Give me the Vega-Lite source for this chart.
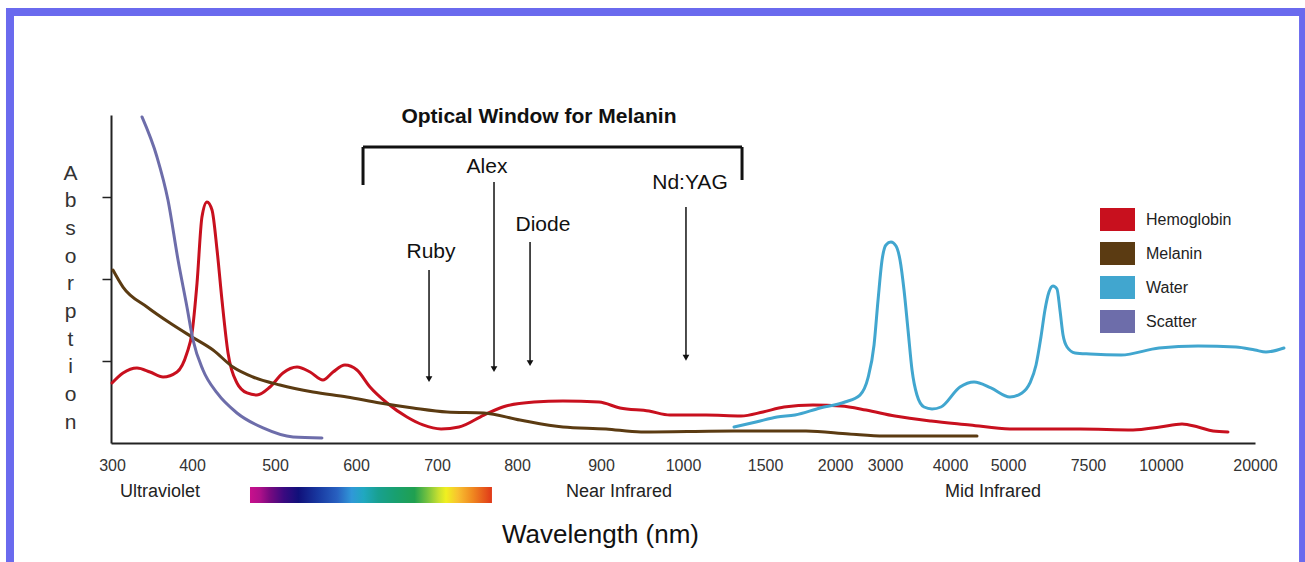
{
  "$schema": "https://vega.github.io/schema/vega-lite/v6.json",
  "width": 1144,
  "height": 328,
  "autosize": {"type": "none"},
  "padding": {"left": 111, "top": 115, "right": 50, "bottom": 119},
  "background": "#ffffff",
  "config": {
    "view": {"stroke": null},
    "font": "Liberation Sans",
    "axis": {"grid": false}
  },
  "datasets": {
    "frame": [{"pos": -8.83, "pos2": 104.2, "y": 5.256, "y2": -2.159}],
    "ticks": [{"pos": 0}, {"pos": 7.08}, {"pos": 14.34}, {"pos": 21.42}, {"pos": 28.5}, {"pos": 35.84}, {"pos": 42.83}, {"pos": 50.0}, {"pos": 57.17}, {"pos": 61.63}, {"pos": 64.25}, {"pos": 66.17}, {"pos": 68.71}, {"pos": 71.24}, {"pos": 75.35}, {"pos": 78.5}, {"pos": 85.66}, {"pos": 92.83}, {"pos": 100.0}],
    "spectrum": [{"pos": 12.15, "pos2": 33.3, "y": -0.537, "y2": -0.732}],
    "bracket": [
      {"pos": 22.03, "pos2": 55.16, "y": 3.61, "y2": 3.61},
      {"pos": 22.03, "pos2": 22.03, "y": 3.61, "y2": 3.146},
      {"pos": 55.16, "pos2": 55.16, "y": 3.61, "y2": 3.207}
    ],
    "arrows": [
      {"laser": "Ruby", "pos": 27.8, "top": 2.11, "y": 0.78},
      {"laser": "Alex", "pos": 33.48, "top": 3.183, "y": 0.9},
      {"laser": "Diode", "pos": 36.63, "top": 2.451, "y": 0.975},
      {"laser": "Nd:YAG", "pos": 50.26, "top": 2.878, "y": 1.04}
    ],
    "labels": [
      {"text": "Optical Window for Melanin", "pos": 37.41, "y": 3.976, "group": "title"},
      {"text": "Alex", "pos": 32.87, "y": 3.36, "group": "laser"},
      {"text": "Nd:YAG", "pos": 50.61, "y": 3.171, "group": "laser"},
      {"text": "Diode", "pos": 37.76, "y": 2.659, "group": "laser"},
      {"text": "Ruby", "pos": 27.97, "y": 2.329, "group": "laser"},
      {"text": "Ultraviolet", "pos": 4.28, "y": -0.598, "group": "region"},
      {"text": "Near Infrared", "pos": 44.41, "y": -0.598, "group": "region"},
      {"text": "Mid Infrared", "pos": 77.1, "y": -0.598, "group": "region"}
    ],
    "curves": [
      {"series": "Hemoglobin", "pos": 0.09, "y": 0.732},
      {"series": "Hemoglobin", "pos": 1.05, "y": 0.854},
      {"series": "Hemoglobin", "pos": 2.27, "y": 0.915},
      {"series": "Hemoglobin", "pos": 3.41, "y": 0.866},
      {"series": "Hemoglobin", "pos": 4.55, "y": 0.805},
      {"series": "Hemoglobin", "pos": 5.77, "y": 0.866},
      {"series": "Hemoglobin", "pos": 6.64, "y": 1.098},
      {"series": "Hemoglobin", "pos": 7.08, "y": 1.341},
      {"series": "Hemoglobin", "pos": 7.52, "y": 1.951},
      {"series": "Hemoglobin", "pos": 7.95, "y": 2.756},
      {"series": "Hemoglobin", "pos": 8.39, "y": 2.939},
      {"series": "Hemoglobin", "pos": 8.83, "y": 2.841},
      {"series": "Hemoglobin", "pos": 9.27, "y": 2.354},
      {"series": "Hemoglobin", "pos": 9.7, "y": 1.744},
      {"series": "Hemoglobin", "pos": 10.23, "y": 1.098},
      {"series": "Hemoglobin", "pos": 11.01, "y": 0.732},
      {"series": "Hemoglobin", "pos": 11.89, "y": 0.61},
      {"series": "Hemoglobin", "pos": 12.76, "y": 0.585},
      {"series": "Hemoglobin", "pos": 13.9, "y": 0.683},
      {"series": "Hemoglobin", "pos": 15.03, "y": 0.854},
      {"series": "Hemoglobin", "pos": 16.26, "y": 0.927},
      {"series": "Hemoglobin", "pos": 17.4, "y": 0.866},
      {"series": "Hemoglobin", "pos": 18.53, "y": 0.768},
      {"series": "Hemoglobin", "pos": 19.41, "y": 0.866},
      {"series": "Hemoglobin", "pos": 20.45, "y": 0.951},
      {"series": "Hemoglobin", "pos": 21.5, "y": 0.89},
      {"series": "Hemoglobin", "pos": 22.64, "y": 0.683},
      {"series": "Hemoglobin", "pos": 24.13, "y": 0.488},
      {"series": "Hemoglobin", "pos": 25.87, "y": 0.317},
      {"series": "Hemoglobin", "pos": 27.27, "y": 0.22},
      {"series": "Hemoglobin", "pos": 28.85, "y": 0.171},
      {"series": "Hemoglobin", "pos": 30.42, "y": 0.195},
      {"series": "Hemoglobin", "pos": 32.6, "y": 0.341},
      {"series": "Hemoglobin", "pos": 34.53, "y": 0.451},
      {"series": "Hemoglobin", "pos": 36.98, "y": 0.5},
      {"series": "Hemoglobin", "pos": 39.51, "y": 0.512},
      {"series": "Hemoglobin", "pos": 42.66, "y": 0.5},
      {"series": "Hemoglobin", "pos": 44.49, "y": 0.427},
      {"series": "Hemoglobin", "pos": 47.03, "y": 0.39},
      {"series": "Hemoglobin", "pos": 48.86, "y": 0.341},
      {"series": "Hemoglobin", "pos": 52.01, "y": 0.341},
      {"series": "Hemoglobin", "pos": 55.07, "y": 0.329},
      {"series": "Hemoglobin", "pos": 56.99, "y": 0.378},
      {"series": "Hemoglobin", "pos": 58.83, "y": 0.439},
      {"series": "Hemoglobin", "pos": 61.36, "y": 0.463},
      {"series": "Hemoglobin", "pos": 63.81, "y": 0.451},
      {"series": "Hemoglobin", "pos": 66.0, "y": 0.402},
      {"series": "Hemoglobin", "pos": 68.53, "y": 0.329},
      {"series": "Hemoglobin", "pos": 71.68, "y": 0.268},
      {"series": "Hemoglobin", "pos": 75.09, "y": 0.22},
      {"series": "Hemoglobin", "pos": 78.58, "y": 0.171},
      {"series": "Hemoglobin", "pos": 84.7, "y": 0.171},
      {"series": "Hemoglobin", "pos": 89.34, "y": 0.159},
      {"series": "Hemoglobin", "pos": 91.7, "y": 0.195},
      {"series": "Hemoglobin", "pos": 93.62, "y": 0.232},
      {"series": "Hemoglobin", "pos": 95.02, "y": 0.195},
      {"series": "Hemoglobin", "pos": 96.33, "y": 0.146},
      {"series": "Hemoglobin", "pos": 97.64, "y": 0.134},
      {"series": "Melanin", "pos": 0.17, "y": 2.11},
      {"series": "Melanin", "pos": 1.05, "y": 1.902},
      {"series": "Melanin", "pos": 3.15, "y": 1.659},
      {"series": "Melanin", "pos": 5.16, "y": 1.463},
      {"series": "Melanin", "pos": 7.08, "y": 1.293},
      {"series": "Melanin", "pos": 8.92, "y": 1.134},
      {"series": "Melanin", "pos": 10.66, "y": 0.927},
      {"series": "Melanin", "pos": 12.41, "y": 0.805},
      {"series": "Melanin", "pos": 14.77, "y": 0.707},
      {"series": "Melanin", "pos": 17.66, "y": 0.622},
      {"series": "Melanin", "pos": 20.63, "y": 0.561},
      {"series": "Melanin", "pos": 23.51, "y": 0.488},
      {"series": "Melanin", "pos": 26.4, "y": 0.427},
      {"series": "Melanin", "pos": 29.37, "y": 0.378},
      {"series": "Melanin", "pos": 32.6, "y": 0.366},
      {"series": "Melanin", "pos": 35.75, "y": 0.28},
      {"series": "Melanin", "pos": 39.51, "y": 0.195},
      {"series": "Melanin", "pos": 43.27, "y": 0.171},
      {"series": "Melanin", "pos": 46.33, "y": 0.134},
      {"series": "Melanin", "pos": 54.46, "y": 0.146},
      {"series": "Melanin", "pos": 60.75, "y": 0.146},
      {"series": "Melanin", "pos": 64.51, "y": 0.11},
      {"series": "Melanin", "pos": 67.57, "y": 0.085},
      {"series": "Melanin", "pos": 75.7, "y": 0.085},
      {"series": "Water", "pos": 54.46, "y": 0.195},
      {"series": "Water", "pos": 56.38, "y": 0.256},
      {"series": "Water", "pos": 58.22, "y": 0.317},
      {"series": "Water", "pos": 59.79, "y": 0.341},
      {"series": "Water", "pos": 61.98, "y": 0.427},
      {"series": "Water", "pos": 64.16, "y": 0.5},
      {"series": "Water", "pos": 65.47, "y": 0.585},
      {"series": "Water", "pos": 66.17, "y": 0.793},
      {"series": "Water", "pos": 66.7, "y": 1.195},
      {"series": "Water", "pos": 67.05, "y": 1.744},
      {"series": "Water", "pos": 67.4, "y": 2.232},
      {"series": "Water", "pos": 67.74, "y": 2.415},
      {"series": "Water", "pos": 68.18, "y": 2.451},
      {"series": "Water", "pos": 68.62, "y": 2.402},
      {"series": "Water", "pos": 68.97, "y": 2.232},
      {"series": "Water", "pos": 69.32, "y": 1.866},
      {"series": "Water", "pos": 69.67, "y": 1.378},
      {"series": "Water", "pos": 70.02, "y": 0.89},
      {"series": "Water", "pos": 70.45, "y": 0.585},
      {"series": "Water", "pos": 71.07, "y": 0.439},
      {"series": "Water", "pos": 71.77, "y": 0.415},
      {"series": "Water", "pos": 72.55, "y": 0.439},
      {"series": "Water", "pos": 74.21, "y": 0.683},
      {"series": "Water", "pos": 75.44, "y": 0.744},
      {"series": "Water", "pos": 76.92, "y": 0.671},
      {"series": "Water", "pos": 78.58, "y": 0.561},
      {"series": "Water", "pos": 79.63, "y": 0.61},
      {"series": "Water", "pos": 80.33, "y": 0.732},
      {"series": "Water", "pos": 80.86, "y": 0.951},
      {"series": "Water", "pos": 81.29, "y": 1.293},
      {"series": "Water", "pos": 81.64, "y": 1.622},
      {"series": "Water", "pos": 81.99, "y": 1.841},
      {"series": "Water", "pos": 82.34, "y": 1.915},
      {"series": "Water", "pos": 82.69, "y": 1.878},
      {"series": "Water", "pos": 82.95, "y": 1.622},
      {"series": "Water", "pos": 83.22, "y": 1.317},
      {"series": "Water", "pos": 83.57, "y": 1.171},
      {"series": "Water", "pos": 84.27, "y": 1.098},
      {"series": "Water", "pos": 85.58, "y": 1.085},
      {"series": "Water", "pos": 88.29, "y": 1.073},
      {"series": "Water", "pos": 91.61, "y": 1.159},
      {"series": "Water", "pos": 95.02, "y": 1.183},
      {"series": "Water", "pos": 98.34, "y": 1.171},
      {"series": "Water", "pos": 100.0, "y": 1.134},
      {"series": "Water", "pos": 100.96, "y": 1.11},
      {"series": "Water", "pos": 102.53, "y": 1.159},
      {"series": "Scatter", "pos": 2.71, "y": 3.976},
      {"series": "Scatter", "pos": 4.02, "y": 3.488},
      {"series": "Scatter", "pos": 4.98, "y": 2.963},
      {"series": "Scatter", "pos": 5.86, "y": 2.232},
      {"series": "Scatter", "pos": 6.64, "y": 1.659},
      {"series": "Scatter", "pos": 7.17, "y": 1.256},
      {"series": "Scatter", "pos": 8.04, "y": 0.89},
      {"series": "Scatter", "pos": 9.27, "y": 0.61},
      {"series": "Scatter", "pos": 11.01, "y": 0.366},
      {"series": "Scatter", "pos": 13.29, "y": 0.183},
      {"series": "Scatter", "pos": 15.91, "y": 0.073},
      {"series": "Scatter", "pos": 18.44, "y": 0.061}
    ]
  },
  "encoding": {
    "x": {
      "field": "pos",
      "type": "quantitative",
      "scale": {"domain": [0, 100], "nice": false, "zero": false},
      "axis": {
        "values": [0.09, 7.08, 14.34, 21.42, 28.5, 35.49, 42.83, 50.0, 57.17, 63.29, 67.66, 73.34, 78.41, 85.4, 91.78, 100.0],
        "labelExpr": "datum.value < 3 ? '300' : datum.value < 10 ? '400' : datum.value < 17 ? '500' : datum.value < 25 ? '600' : datum.value < 32 ? '700' : datum.value < 39 ? '800' : datum.value < 46 ? '900' : datum.value < 53 ? '1000' : datum.value < 60 ? '1500' : datum.value < 65 ? '2000' : datum.value < 70 ? '3000' : datum.value < 76 ? '4000' : datum.value < 82 ? '5000' : datum.value < 88 ? '7500' : datum.value < 95 ? '10000' : '20000'",
        "ticks": false,
        "tickSize": 0,
        "domain": true,
        "domainColor": "#222222",
        "domainWidth": 2,
        "labelFont": "Liberation Sans",
        "labelFontSize": 16,
        "labelColor": "#333333",
        "labelPadding": 22,
        "labelBaseline": "middle",
        "labelFlush": false,
        "labelOverlap": false,
        "grid": false,
        "title": "Wavelength (nm)",
        "titleFont": "Liberation Sans",
        "titleFontSize": 26,
        "titleFontWeight": "normal",
        "titleColor": "#111111",
        "titleX": 489,
        "titleY": 91,
        "titleBaseline": "middle",
        "titleAlign": "center"
      }
    },
    "y": {
      "field": "y",
      "type": "quantitative",
      "scale": {"domain": [0, 4], "nice": false, "zero": false},
      "axis": {
        "values": [1, 2, 3],
        "labels": false,
        "ticks": true,
        "tickSize": 9,
        "tickWidth": 1.5,
        "tickColor": "#222222",
        "domainColor": "#222222",
        "domainWidth": 2,
        "grid": false,
        "title": ["A", "b", "s", "o", "r", "p", "t", "i", "o", "n"],
        "titleAngle": 0,
        "titleX": -41,
        "titleY": 58,
        "titleBaseline": "middle",
        "titleAlign": "center",
        "titleFont": "Liberation Sans",
        "titleFontSize": 21,
        "titleFontWeight": "normal",
        "titleColor": "#333333",
        "titleLineHeight": 27.7
      }
    }
  },
  "layer": [
    {
      "data": {"name": "frame"},
      "mark": {"type": "rect", "fillOpacity": 0, "stroke": "#6a6aee", "strokeWidth": 8},
      "encoding": {"x2": {"field": "pos2"}, "y2": {"field": "y2"}}
    },
    {
      "data": {"name": "ticks"},
      "mark": {"type": "rule", "color": "#222222", "strokeWidth": 1.5},
      "encoding": {"y": {"datum": 0}, "y2": {"datum": -0.122}}
    },
    {
      "data": {"name": "spectrum"},
      "mark": {
        "type": "rect",
        "fill": {
          "gradient": "linear",
          "x1": 0, "y1": 0, "x2": 1, "y2": 0,
          "stops": [
            {"offset": 0, "color": "#c8108c"},
            {"offset": 0.04, "color": "#b0108a"},
            {"offset": 0.08, "color": "#7a0a80"},
            {"offset": 0.14, "color": "#3a0a80"},
            {"offset": 0.2, "color": "#10107a"},
            {"offset": 0.28, "color": "#1838a0"},
            {"offset": 0.36, "color": "#2860c0"},
            {"offset": 0.42, "color": "#3098d8"},
            {"offset": 0.47, "color": "#20a8c0"},
            {"offset": 0.53, "color": "#18a090"},
            {"offset": 0.6, "color": "#18a070"},
            {"offset": 0.68, "color": "#20a050"},
            {"offset": 0.73, "color": "#70c040"},
            {"offset": 0.78, "color": "#c8e030"},
            {"offset": 0.81, "color": "#f0f020"},
            {"offset": 0.86, "color": "#f8c030"},
            {"offset": 0.92, "color": "#f08820"},
            {"offset": 1, "color": "#e03818"}
          ]
        }
      },
      "encoding": {"x2": {"field": "pos2"}, "y2": {"field": "y2"}}
    },
    {
      "data": {"name": "curves"},
      "mark": {"type": "point", "shape": "M-1.6,-1H1.6V1H-1.6Z", "filled": true, "size": 1, "opacity": 1},
      "encoding": {
        "color": {
          "field": "series",
          "type": "nominal",
          "scale": {"domain": ["Hemoglobin", "Melanin", "Water", "Scatter"], "range": ["#c8101e", "#5b3b12", "#41a6cf", "#6d6daa"]},
          "legend": {
            "orient": "none",
            "legendX": 995,
            "legendY": 93,
            "title": null,
            "symbolType": "M-1.6,-1H1.6V1H-1.6Z",
            "symbolSize": 400,
            "symbolStrokeWidth": 0,
            "symbolOpacity": 1,
            "labelFont": "Liberation Sans",
            "labelFontSize": 16,
            "labelColor": "#222222",
            "labelOffset": 17,
            "rowPadding": 1,
            "padding": 0
          }
        }
      }
    },
    {
      "data": {"name": "curves"},
      "mark": {"type": "line", "interpolate": "monotone", "strokeCap": "round", "strokeJoin": "round"},
      "encoding": {
        "color": {
          "field": "series",
          "type": "nominal",
          "scale": {"domain": ["Hemoglobin", "Melanin", "Water", "Scatter"], "range": ["#c8101e", "#5b3b12", "#41a6cf", "#6d6daa"]},
          "legend": null
        },
        "strokeWidth": {
          "field": "series",
          "type": "nominal",
          "scale": {"domain": ["Hemoglobin", "Melanin", "Water", "Scatter"], "range": [3, 3, 4, 4]},
          "legend": null
        }
      }
    },
    {
      "data": {"name": "bracket"},
      "mark": {"type": "rule", "color": "#111111", "strokeWidth": 3},
      "encoding": {"x2": {"field": "pos2"}, "y2": {"field": "y2"}}
    },
    {
      "data": {"name": "arrows"},
      "mark": {"type": "rule", "color": "#111111", "strokeWidth": 1.5},
      "encoding": {"y2": {"field": "top"}}
    },
    {
      "data": {"name": "arrows"},
      "mark": {"type": "point", "shape": "triangle-down", "filled": true, "size": 45, "color": "#111111", "opacity": 1}
    },
    {
      "data": {"name": "labels"},
      "transform": [{"filter": "datum.group === 'title'"}],
      "mark": {"type": "text", "font": "Liberation Sans", "fontSize": 21, "fontWeight": "bold", "color": "#111111", "align": "center", "baseline": "middle"},
      "encoding": {"text": {"field": "text"}}
    },
    {
      "data": {"name": "labels"},
      "transform": [{"filter": "datum.group === 'laser'"}],
      "mark": {"type": "text", "font": "Liberation Sans", "fontSize": 21, "color": "#111111", "align": "center", "baseline": "middle"},
      "encoding": {"text": {"field": "text"}}
    },
    {
      "data": {"name": "labels"},
      "transform": [{"filter": "datum.group === 'region'"}],
      "mark": {"type": "text", "font": "Liberation Sans", "fontSize": 18, "color": "#222222", "align": "center", "baseline": "middle"},
      "encoding": {"text": {"field": "text"}}
    }
  ]
}
